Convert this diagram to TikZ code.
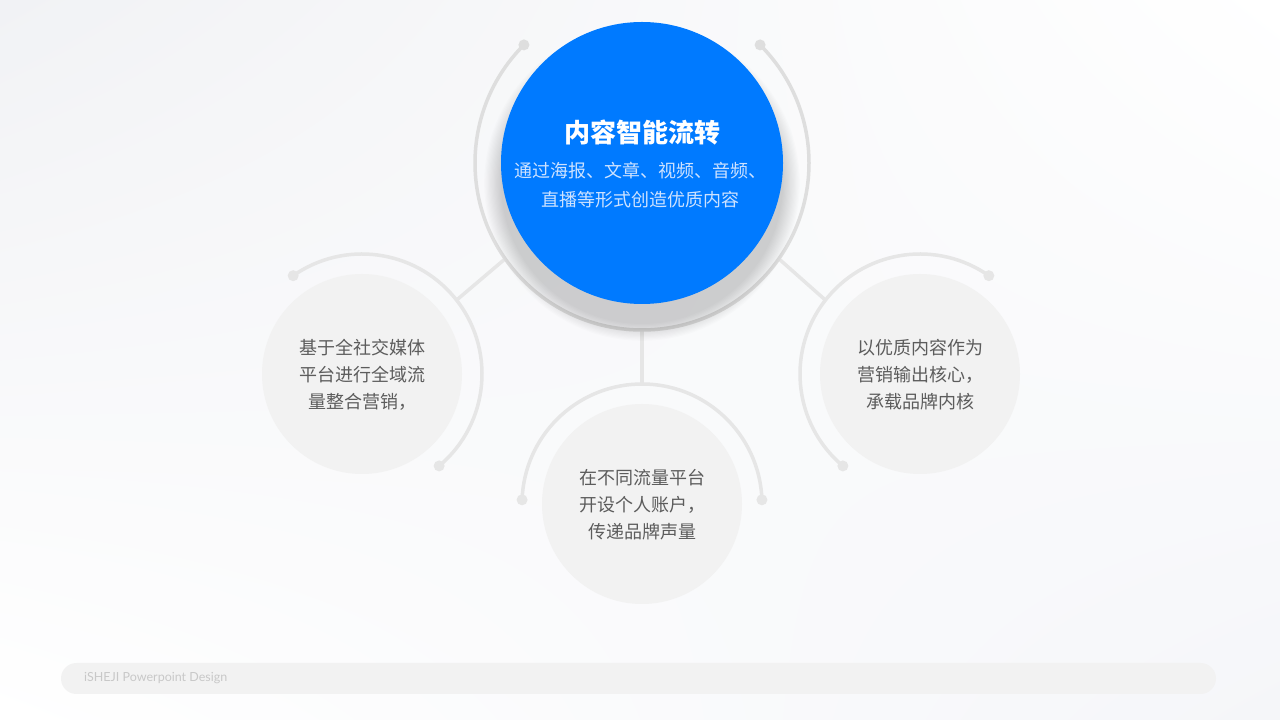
\documentclass[tikz,border=0pt]{standalone}
\usepackage{fontspec}
\newfontfamily\cjk{Noto Sans CJK SC}
\newfontfamily\latofont{Lato}
\usetikzlibrary{shadings}
\definecolor{niceblue}{RGB}{0, 122, 255}
\definecolor{niceblueL}{RGB}{205, 226, 255}
\definecolor{lgray}{RGB}{242, 242, 242}
\definecolor{rgray}{RGB}{230, 230, 230}
\definecolor{mgray}{RGB}{222, 222, 222}
\definecolor{tgray}{RGB}{92, 92, 92}
\definecolor{fgray}{RGB}{200, 200, 200}
\definecolor{bgA}{RGB}{241, 242, 245}
\definecolor{bgB}{RGB}{245, 246, 249}

\begin{document}
\begin{tikzpicture}[x = 1pt, y = 1pt,
			ring/.style = {draw = rgray, line width = 3.5pt},
			dot/.style = {circle, fill = rgray, inner sep = 0pt, minimum size = 11pt},
			small/.style = {circle, fill = lgray, inner sep = 0pt, minimum size = 200pt},
			ghost/.style = {circle, inner sep = 0pt, outer sep = 0pt},
			words/.style = {font = \cjk\fontsize{18}{27}\selectfont, text = tgray, align = center}]
			\useasboundingbox (0,0) rectangle (1280,720);
			\shade[upper left = bgA, upper right = white, lower left = white, lower right = bgB] (0,0) rectangle (1280,720);
			% rings
			\node (mring) at (642,557) [ghost, minimum size = 334pt] {};
			\node (lring) at (362,346) [ghost, minimum size = 240pt] {};
			\node (rring) at (920,346) [ghost, minimum size = 240pt] {};
			\node (bring) at (642,216) [ghost, minimum size = 240pt] {};
			\draw[ring] (lring.38) -- (mring.215);
			\draw[ring] (rring.142) -- (mring.-35);
			\draw[ring] (mring.south) -- (bring.north);
			\draw[ring, draw = mgray] (mring.135) arc[start angle = 135, end angle = 405, radius = 167];
			\draw[ring] (lring.-50) arc[start angle = -50, end angle = 125, radius = 120];
			\draw[ring] (rring.230) arc[start angle = 230, end angle = 55, radius = 120];
			\draw[ring] (bring.2) arc[start angle = 2, end angle = 178, radius = 120];
			\node (mdotA) at (mring.135) [dot, fill = mgray] {};
			\node (mdotB) at (mring.45) [dot, fill = mgray] {};
			\node (ldotA) at (lring.125) [dot] {};
			\node (ldotB) at (lring.-50) [dot] {};
			\node (rdotA) at (rring.55) [dot] {};
			\node (rdotB) at (rring.230) [dot] {};
			\node (bdotA) at (bring.178) [dot] {};
			\node (bdotB) at (bring.2) [dot] {};
			% circles
			\node (left) at (362,346) [small] {};
			\node (right) at (920,346) [small] {};
			\node (bottom) at (642,216) [small] {};
			\foreach \i in {0,...,14}
				\fill[black, opacity = 0.013] (642,537) circle[radius = 141 + 1.2*\i];
			\node (main) at (642,557) [circle, fill = niceblue, inner sep = 0pt, minimum size = 282pt] {};
			% texts
			\node (title) at (642,587) [font = \cjk\bfseries\fontsize{26}{30}\selectfont, text = white] {内容智能流转};
			\node (sub) at (640,535) [font = \cjk\fontsize{18}{29}\selectfont, text = niceblueL, align = center] {通过海报、文章、视频、音频、\\直播等形式创造优质内容};
			\node (ltext) at (362,345) [words] {基于全社交媒体\\平台进行全域流\\量整合营销，};
			\node (rtext) at (920,345) [words] {以优质内容作为\\营销输出核心，\\承载品牌内核};
			\node (btext) at (642,215) [words] {在不同流量平台\\开设个人账户，\\传递品牌声量};
			% footer
			\fill[lgray, rounded corners = 15.5pt] (61,26) rectangle (1216,57);
			\node (foot) at (84,41.5) [anchor = west, inner sep = 0pt, font = \latofont\fontsize{12.5}{14}\selectfont, text = fgray] {iSHEJI Powerpoint Design};
			\end{tikzpicture}
\end{document}
